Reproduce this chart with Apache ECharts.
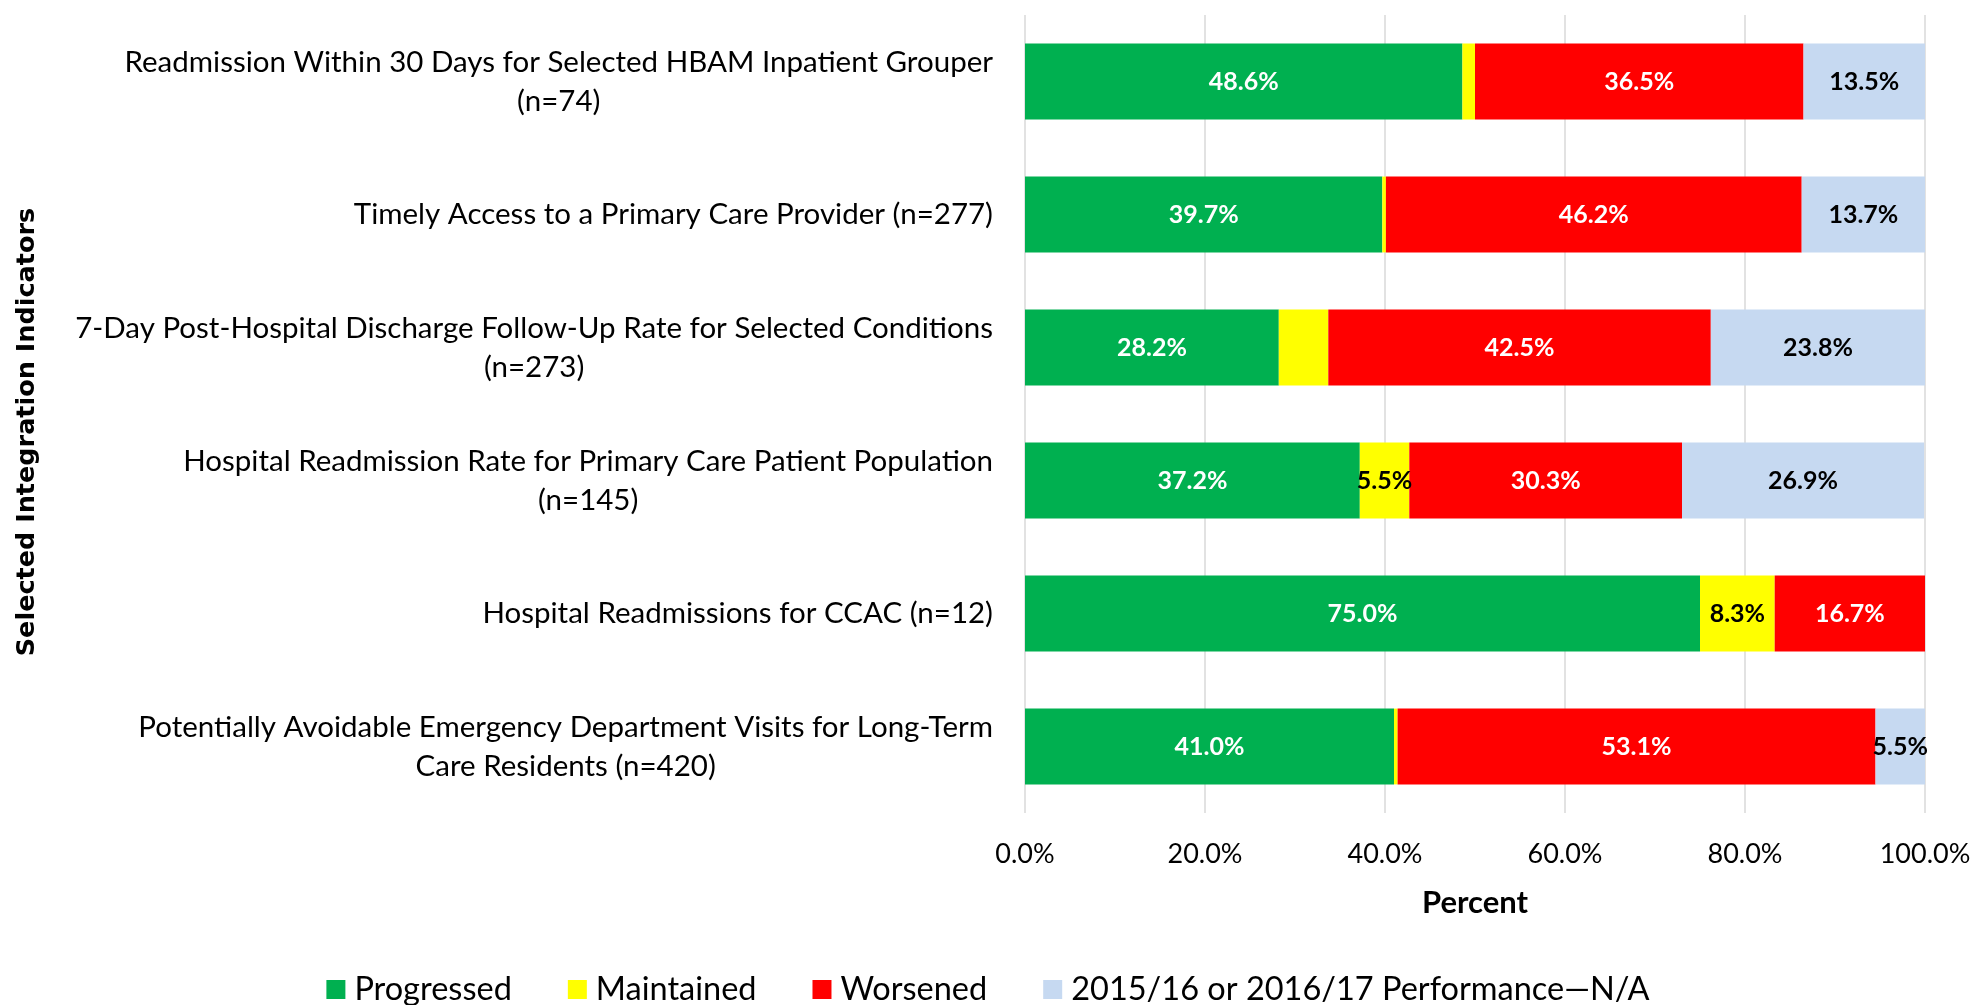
<!DOCTYPE html>
<html>
<head>
<meta charset="utf-8">
<script src="https://cdn.jsdelivr.net/npm/echarts@6/dist/echarts.min.js"></script>
<style>
  html, body { margin: 0; padding: 0; background: #fff; }
  #chart { width: 1976px; height: 1005px; }
</style>
</head>
<body>
<div id="chart"></div>
<script>
var categories = [
	'Readmission Within 30 Days for Selected HBAM Inpatient Grouper\n(n=74)',
	'Timely Access to a Primary Care Provider (n=277)',
	'7-Day Post-Hospital Discharge Follow-Up Rate for Selected Conditions\n(n=273)',
	'Hospital Readmission Rate for Primary Care Patient Population\n(n=145)',
	'Hospital Readmissions for CCAC (n=12)',
	'Potentially Avoidable Emergency Department Visits for Long-Term\nCare Residents (n=420)'
];
var seriesNames = ['Progressed', 'Maintained', 'Worsened', '2015/16 or 2016/17 Performance\u2014N/A'];
var progressed = [48.6, 39.7, 28.2, 37.2, 75.0, 41.0];
var maintained = [1.4, 0.4, 5.5, 5.5, 8.3, 0.4];
var worsened = [36.5, 46.2, 42.5, 30.3, 16.7, 53.1];
var notAvailable = [13.5, 13.7, 23.8, 26.9, 0, 5.5];
// which data labels are printed on the original
var maintainedLabelShown = [false, false, false, true, true, false];
var xTicks = [0, 20, 40, 60, 80, 100];

var colors = ['#00B050', '#FFFF00', '#FF0000', '#C6D9F1'];
var labelColors = ['#ffffff', '#000000', '#ffffff', '#000000'];
var font = 'Lato';

function makeSeries(idx, values, shown) {
	return {
		name: seriesNames[idx],
		type: 'bar',
		stack: 'total',
		barCategoryGap: '43%',
		itemStyle: { color: colors[idx] },
		data: values.map(function (v, i) {
			var show = shown ? shown[i] : v > 0;
			return { value: v, label: { show: show } };
		}),
		label: {
			position: 'inside',
			color: labelColors[idx],
			fontFamily: font,
			fontWeight: 'bold',
			fontSize: 25,
			formatter: function (p) { return p.value.toFixed(1) + '%'; }
		}
	};
}

var chart = echarts.init(document.getElementById('chart'));
chart.setOption({
	animation: false,
	textStyle: { fontFamily: font },
	grid: { left: 1025, right: 51, top: 15, bottom: 192, containLabel: false },
	legend: {
		top: 968,
		left: 'center',
		itemWidth: 19,
		itemHeight: 19,
		itemGap: 56,
		icon: 'rect',
		textStyle: { fontSize: 32.5, color: '#000', fontFamily: font, padding: [0, 0, 0, 4] }
	},
	xAxis: {
		type: 'value',
		min: xTicks[0],
		max: xTicks[xTicks.length - 1],
		interval: 20,
		name: 'Percent',
		nameLocation: 'middle',
		nameGap: 74,
		nameTextStyle: { fontSize: 31, fontWeight: 'bold', color: '#000', verticalAlign: 'top' },
		axisLine: { show: false },
		axisTick: { show: false },
		splitLine: { lineStyle: { color: '#d9d9d9', width: 1.5 } },
		axisLabel: {
			fontSize: 27,
			color: '#000',
			margin: 28,
			formatter: function (v) { return v.toFixed(1) + '%'; }
		}
	},
	yAxis: {
		type: 'category',
		inverse: true,
		data: categories,
		name: 'Selected Integration Indicators',
		nameLocation: 'middle',
		nameRotate: 90,
		nameGap: 985,
		nameTextStyle: { fontSize: 25.5, fontWeight: 'bold', color: '#000', fontFamily: 'DejaVu Sans', padding: [0, 36, 0, 0] },
		axisLine: { show: false },
		axisTick: { show: false },
		axisLabel: {
			fontSize: 29.5,
			color: '#000',
			margin: 32,
			lineHeight: 39,
			formatter: function (v) {
				return v.split('\n').map(function (s) { return '{c|' + s + '}'; }).join('\n');
			},
			rich: {
				c: { align: 'center', fontSize: 29.5, lineHeight: 39, color: '#000', fontFamily: font }
			}
		}
	},
	series: [
		makeSeries(0, progressed),
		makeSeries(1, maintained, maintainedLabelShown),
		makeSeries(2, worsened),
		makeSeries(3, notAvailable)
	]
});
</script>
</body>
</html>
